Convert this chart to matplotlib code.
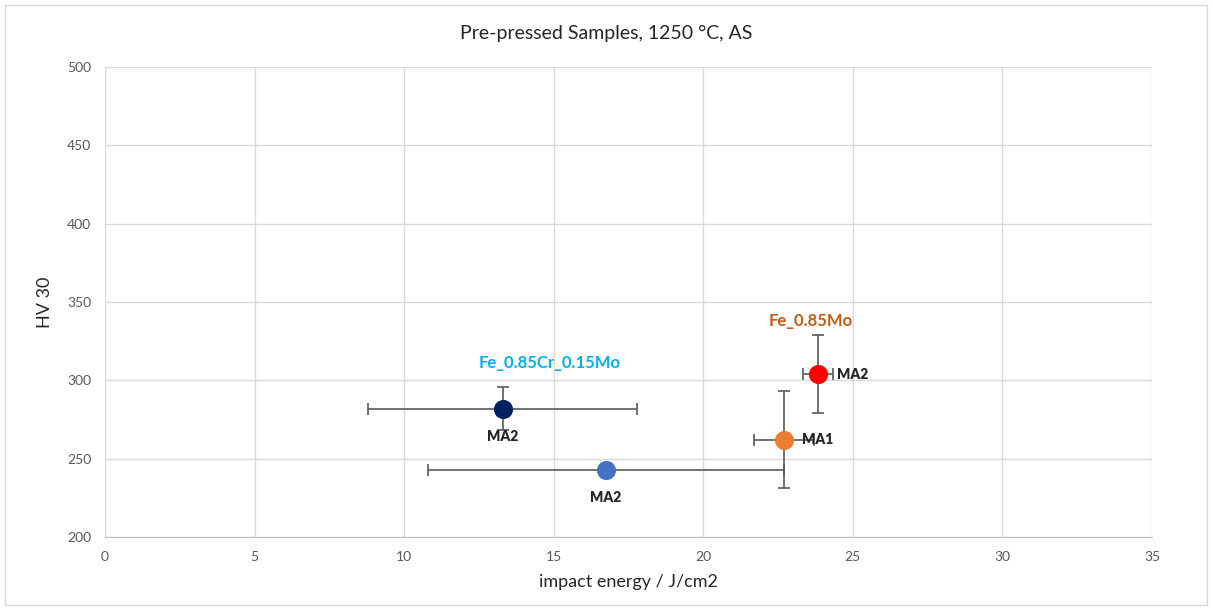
import matplotlib
matplotlib.use("Agg")
import matplotlib.pyplot as plt
from matplotlib.patches import Rectangle

plt.rcParams['font.family'] = ['Lato', 'DejaVu Sans']

# data: impact energy (J/cm2) vs HV 30 with error bars
energy = [13.3, 16.75, 22.7, 23.85]
energy_err = [4.5, 5.95, 1.0, 0.5]
hv = [282, 243, 262, 304]
hv_err = [14, 0, 31, 25]
point_labels = ["MA2", "MA2", "MA1", "MA2"]
colors = ["#002060", "#4472C4", "#ED7D31", "#FF0000"]

series_names = ["Fe_0.85Cr_0.15Mo", "Fe_0.85Mo"]
series_pos = [(14.85, 311), (23.6, 338)]
series_colors = ["#00B0F0", "#C55A11"]

fig = plt.figure(figsize=(12.12, 6.10), dpi=100)
ax = fig.add_axes([0.0866, 0.1197, 0.8639, 0.7703])

# light frame around the whole chart
fig.patches.append(Rectangle((0.004, 0.008), 0.992, 0.984, transform=fig.transFigure,
                             fill=False, edgecolor="#D9D9D9", linewidth=1))

for x, xe, y, ye, c in zip(energy, energy_err, hv, hv_err, colors):
    ax.errorbar(x, y, xerr=xe, yerr=ye if ye else None, fmt='none', ecolor="#595959",
                elinewidth=1.2, capsize=4, capthick=1.2, zorder=2)
    ax.scatter(x, y, s=190, color=c, zorder=3, linewidths=0)

# point labels
offsets = [(0, -20, 'center'), (0, -20, 'center'), (13, 0, 'left'), (13, 0, 'left')]
for x, y, lab, (dx, dy, ha) in zip(energy, hv, point_labels, offsets):
    ax.annotate(lab, (x, y), xytext=(dx, dy), textcoords="offset points",
                ha=ha, va='center', fontsize=10, fontweight='heavy', color="#262626")

for name, (x, y), c in zip(series_names, series_pos, series_colors):
    ax.text(x, y, name, ha='center', va='center', fontsize=12, fontweight='bold', color=c)

ax.set_xlim(0, 35)
ax.set_ylim(200, 500)
ax.set_xticks(range(0, 36, 5))
ax.set_yticks(range(200, 501, 50))
ax.grid(True, color="#D9D9D9", linewidth=1)
ax.set_axisbelow(True)
for s in ["top", "right", "left"]:
    ax.spines[s].set_visible(False)
ax.spines["bottom"].set_color("#BFBFBF")
ax.tick_params(length=0, labelsize=10, colors="#595959", pad=10)

ax.set_xlabel("impact energy / J/cm2", fontsize=13, color="#262626", labelpad=8)
ax.set_ylabel("HV 30", fontsize=13, color="#262626", labelpad=10)
fig.text(0.5, 0.945, "Pre-pressed Samples, 1250 °C, AS", ha='center', va='center',
         fontsize=14, color="#262626")

fig.savefig("out.png", dpi=100)
